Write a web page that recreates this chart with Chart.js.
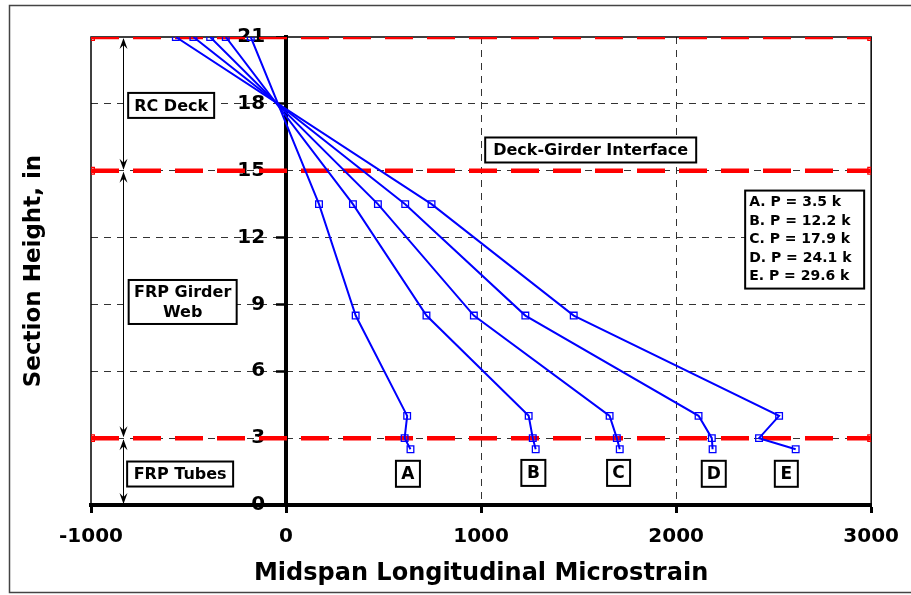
<!DOCTYPE html>
<html>
<head>
<meta charset="utf-8">
<script src="https://cdn.jsdelivr.net/npm/chart.js@4.4.1/dist/chart.umd.min.js"></script>
<style>
  html, body { margin: 0; padding: 0; background: #fff; }
  #wrap { width: 911px; height: 595px; position: relative; }
</style>
</head>
<body>
<div id="wrap"><canvas id="grafico" width="911" height="595"></canvas></div>
<script>
// alturas dos extensometros (in)
const alturas = [21, 13.5, 8.5, 4, 3, 2.5];

// microdeformacoes por nivel de carga
const serieA = [-181, 169, 357, 621, 608, 638];
const serieB = [-309, 343, 720, 1244, 1265, 1280];
const serieC = [-389, 471, 963, 1659, 1696, 1711];
const serieD = [-475, 611, 1227, 2115, 2183, 2187];
const serieE = [-565, 746, 1475, 2528, 2425, 2613];

const nomesSeries = ['A', 'B', 'C', 'D', 'E'];
const cargas = ['A. P = 3.5 k', 'B. P = 12.2 k', 'C. P = 17.9 k', 'D. P = 24.1 k', 'E. P = 29.6 k'];

const xTicks = [-1000, 0, 1000, 2000, 3000];
const yTicks = [0, 3, 6, 9, 12, 15, 18, 21];

// linhas das interfaces (topo do tabuleiro, interface, tubos)
const interfaces = [21, 15, 3];

const FONTE = '"DejaVu Sans", Verdana, sans-serif';
Chart.defaults.font.family = FONTE;
Chart.defaults.font.weight = 'bold';
Chart.defaults.color = '#000';

const series = [serieA, serieB, serieC, serieD, serieE];

const datasets = series.map(function (s, i) {
    return {
        label: nomesSeries[i],
        data: s.map(function (v, j) { return { x: v, y: alturas[j] }; }),
        showLine: true,
        borderColor: '#0000ff',
        borderWidth: 2,
        pointStyle: 'rect',
        pointRadius: 4.7,
        pointBorderWidth: 1.3,
        pointBorderColor: '#0000ff',
        pointBackgroundColor: 'rgba(0,0,0,0)',
        order: 0
    };
});

interfaces.forEach(function (h) {
    datasets.push({
        label: 'interface ' + h,
        data: [{ x: xTicks[0], y: h }, { x: xTicks[xTicks.length - 1], y: h }],
        showLine: true,
        borderColor: '#ff0000',
        borderWidth: 4.5,
        borderDash: [28, 14],
        pointStyle: 'rect',
        pointRadius: 4.7,
        pointBorderWidth: 1.3,
        pointBorderColor: '#ff0000',
        pointBackgroundColor: 'rgba(0,0,0,0)',
        order: 1
    });
});

// caixas de texto (posicao em unidades do grafico, tamanho em px)
const caixas = [
    { linhas: ['RC Deck'], x: -589, y: 17.93, w: 86, h: 25 },
    { linhas: ['Deck-Girder Interface'], x: 1562, y: 15.93, w: 211, h: 25 },
    { linhas: ['FRP Girder', 'Web'], x: -530, y: 9.11, w: 108, h: 44 },
    { linhas: ['FRP Tubes'], x: -543, y: 1.39, w: 106, h: 25 },
    { linhas: ['A'], x: 625, y: 1.4, w: 24, h: 26 },
    { linhas: ['B'], x: 1268, y: 1.44, w: 24, h: 26 },
    { linhas: ['C'], x: 1705, y: 1.44, w: 23, h: 26 },
    { linhas: ['D'], x: 2193, y: 1.4, w: 24, h: 26 },
    { linhas: ['E'], x: 2565, y: 1.4, w: 23, h: 26 }
];
const legendaPos = { x: 2659, y: 11.91, w: 119, h: 98 };
const setaX = -835;

function caixa(ctx, cx, cy, w, h) {
    ctx.fillStyle = '#fff';
    ctx.fillRect(cx - w / 2, cy - h / 2, w, h);
    ctx.strokeStyle = '#000';
    ctx.lineWidth = 2;
    ctx.strokeRect(cx - w / 2, cy - h / 2, w, h);
}

function ponta(ctx, x, y, dir) {
    // dir = 1 aponta para baixo, -1 para cima
    ctx.beginPath();
    ctx.moveTo(x, y);
    ctx.lineTo(x - 4, y - dir * 11);
    ctx.lineTo(x, y - dir * 7);
    ctx.lineTo(x + 4, y - dir * 11);
    ctx.closePath();
    ctx.fill();
}

const desenhos = {
    id: 'desenhos',
    beforeDatasetsDraw(chart) {
        const { ctx, chartArea: a, scales } = chart;
        ctx.save();
        // moldura da area do grafico
        ctx.strokeStyle = '#000';
        ctx.lineWidth = 1.5;
        ctx.beginPath();
        ctx.moveTo(a.left, a.bottom);
        ctx.lineTo(a.left, a.top);
        ctx.lineTo(a.right, a.top);
        ctx.lineTo(a.right, a.bottom);
        ctx.stroke();

        // setas das regioes
        const px = Math.round(scales.x.getPixelForValue(setaX)) + 0.5;
        const niveis = [21, 15, 3, 0];
        ctx.fillStyle = '#000';
        ctx.lineWidth = 1;
        for (let i = 0; i < niveis.length - 1; i++) {
            const y1 = scales.y.getPixelForValue(niveis[i]);
            const y2 = scales.y.getPixelForValue(niveis[i + 1]);
            ctx.beginPath();
            ctx.moveTo(px, y1 + 2);
            ctx.lineTo(px, y2 - 2);
            ctx.stroke();
            ponta(ctx, px, y1 + 1, -1);
            ponta(ctx, px, y2 - 1, 1);
        }
        ctx.restore();
    },
    afterDatasetsDraw(chart) {
        const { ctx, scales } = chart;
        ctx.save();
        ctx.textAlign = 'center';
        ctx.textBaseline = 'middle';
        caixas.forEach(function (c) {
            const cx = scales.x.getPixelForValue(c.x);
            const cy = scales.y.getPixelForValue(c.y);
            caixa(ctx, cx, cy, c.w, c.h);
            ctx.fillStyle = '#000';
            ctx.font = 'bold ' + (c.linhas[0].length === 1 ? 17 : 16) + 'px ' + FONTE;
            const n = c.linhas.length;
            c.linhas.forEach(function (t, k) {
                ctx.fillText(t, cx, cy + (k - (n - 1) / 2) * 20 + 1);
            });
        });

        // legenda das cargas
        const lx = scales.x.getPixelForValue(legendaPos.x);
        const ly = scales.y.getPixelForValue(legendaPos.y);
        caixa(ctx, lx, ly, legendaPos.w, legendaPos.h);
        ctx.fillStyle = '#000';
        ctx.textAlign = 'left';
        ctx.font = 'bold 14px ' + FONTE;
        cargas.forEach(function (t, k) {
            ctx.fillText(t, lx - legendaPos.w / 2 + 4, ly - legendaPos.h / 2 + 12 + k * 18.5);
        });
        ctx.restore();
    },
    afterDraw(chart) {
        const ctx = chart.ctx;
        ctx.save();
        ctx.strokeStyle = '#444';
        ctx.lineWidth = 1.5;
        ctx.strokeRect(9.5, 5.5, 930, 587);
        ctx.restore();
    }
};

function semBorda(v) {
    return function (c) {
        return v.indexOf(c.tick && c.tick.value) >= 0 ? 'rgba(0,0,0,0)' : '#333';
    };
}

new Chart(document.getElementById('grafico'), {
    type: 'scatter',
    data: { datasets: datasets },
    plugins: [desenhos],
    options: {
        responsive: false,
        animation: false,
        devicePixelRatio: 1,
        layout: { padding: { left: 0, right: 39, top: 37, bottom: 0 } },
        plugins: { legend: { display: false }, tooltip: { enabled: false } },
        scales: {
            x: {
                type: 'linear',
                position: 'bottom',
                min: xTicks[0],
                max: xTicks[xTicks.length - 1],
                afterBuildTicks: function (s) { s.ticks = xTicks.map(function (v) { return { value: v }; }); },
                afterFit: function (s) { s.height = 90; },
                ticks: {
                    font: { size: 20, weight: 'bold' }, padding: 12, maxRotation: 0, color: '#000',
                    callback: function (v) { return String(v); }
                },
                grid: { color: semBorda([-1000, 0, 3000]), lineWidth: 1, tickLength: 8, tickWidth: 3, tickColor: '#000' },
                border: { display: true, color: '#000', width: 4, dash: [7, 6] },
                title: {
                    display: true,
                    text: 'Midspan Longitudinal Microstrain',
                    font: { size: 24, weight: 'bold' },
                    color: '#000',
                    padding: { top: 0, bottom: 7 }
                }
            },
            y: {
                type: 'linear',
                position: { x: 0 },
                min: 0,
                max: 21,
                afterBuildTicks: function (s) { s.ticks = yTicks.map(function (v) { return { value: v }; }); },
                ticks: {
                    font: { size: 20, weight: 'bold' }, padding: 13, color: '#000',
                    // eixo no meio: o Chart.js nao aplica o recuo, entao os espacos afastam o rotulo
                    callback: function (v) { return String(v) + '   '; }
                },
                grid: { color: semBorda([0, 21]), lineWidth: 1, tickLength: 8, tickWidth: 2.5, tickColor: '#000' },
                border: { display: true, color: '#000', width: 4, dash: [7, 6] }
            },
            yTitulo: {
                type: 'linear',
                position: 'left',
                min: 0,
                max: 21,
                afterFit: function (s) { s.width = 91; },
                ticks: { display: false },
                grid: { display: false },
                border: { display: false },
                title: {
                    display: true,
                    text: 'Section Height, in',
                    font: { size: 23, weight: 'bold' },
                    color: '#000',
                    padding: { top: 20, bottom: 0 }
                }
            }
        }
    }
});
</script>
</body>
</html>
